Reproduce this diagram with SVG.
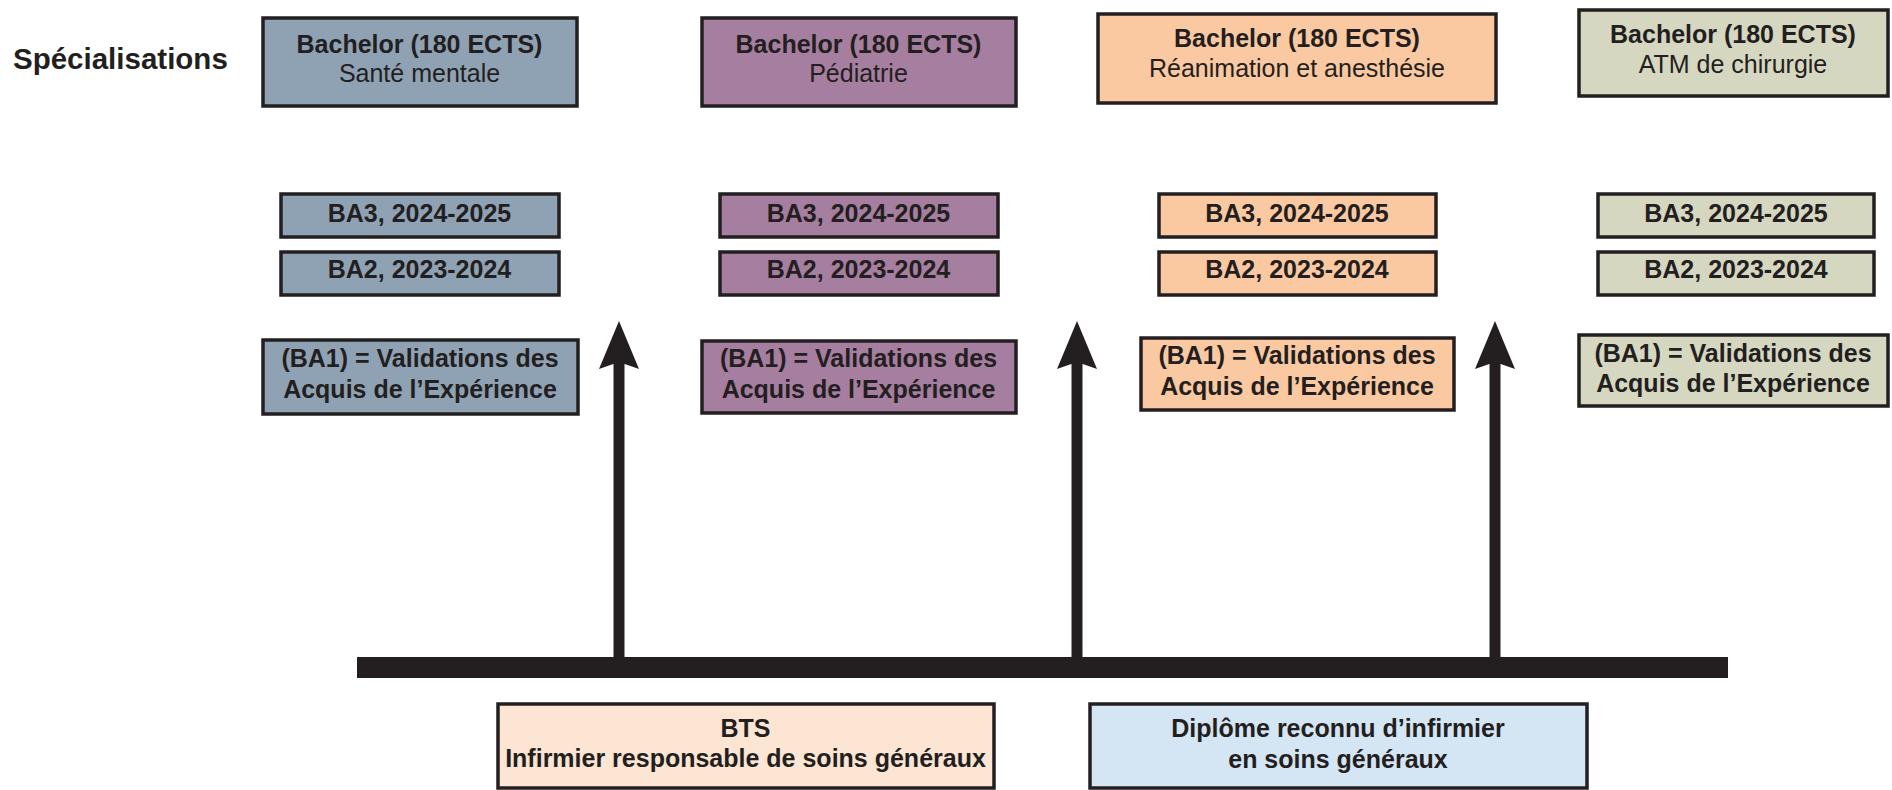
<svg xmlns="http://www.w3.org/2000/svg" width="1892" height="790" viewBox="0 0 1892 790">
<style>
  text { font-family: "Liberation Sans", Arial, sans-serif; fill: #231f20; font-size: 25px; text-anchor: middle; }
  .b { font-weight: bold; }
  .title { font-size: 29.5px; font-weight: bold; text-anchor: start; }
  rect.box { stroke: #231f20; stroke-width: 3.5; }
  .c1 { fill: #8fa2b4; }
  .c2 { fill: #a67ea0; }
  .c3 { fill: #fbc9a1; }
  .c4 { fill: #d6d7c1; }
  .bts { fill: #fce5d2; }
  .dip { fill: #d4e5f4; }
  .shaft { stroke: #231f20; stroke-width: 11; fill: none; }
</style>
<defs>
  <marker id="head" markerUnits="userSpaceOnUse" viewBox="-10 -21 50 42" markerWidth="50" markerHeight="42" refX="0" refY="0" orient="auto">
    <path d="M39,0 L-9,-20 L-2,0 L-9,20 Z" fill="#231f20"/>
  </marker>
</defs>
<rect width="1892" height="790" fill="#ffffff"/>

<text id="label-specialisations" class="title" x="13" y="69">Spécialisations</text>

<g id="connectors">
  <rect x="357" y="657" width="1371" height="21" fill="#231f20"/>
  <line class="shaft" x1="619" y1="657" x2="619" y2="360" marker-end="url(#head)"/>
  <line class="shaft" x1="1077" y1="657" x2="1077" y2="360" marker-end="url(#head)"/>
  <line class="shaft" x1="1495" y1="657" x2="1495" y2="360" marker-end="url(#head)"/>
</g>

<!-- Column 1 -->
<g id="bachelor-sante-mentale">
  <rect class="box c1" x="263" y="18" width="314" height="88"/>
  <text class="b" x="419.5" y="53">Bachelor (180 ECTS)</text>
  <text x="419.5" y="82">Santé mentale</text>
</g>
<g id="ba3-sante-mentale">
  <rect class="box c1" x="281" y="194" width="278" height="43"/>
  <text class="b" x="419.5" y="222">BA3, 2024-2025</text>
</g>
<g id="ba2-sante-mentale">
  <rect class="box c1" x="281" y="252" width="278" height="43"/>
  <text class="b" x="419.5" y="278">BA2, 2023-2024</text>
</g>
<g id="ba1-sante-mentale">
  <rect class="box c1" x="263" y="340" width="315" height="74"/>
  <text class="b" x="420" y="367">(BA1) = Validations des</text>
  <text class="b" x="420" y="398">Acquis de l’Expérience</text>
</g>

<!-- Column 2 -->
<g id="bachelor-pediatrie">
  <rect class="box c2" x="702" y="18" width="314" height="88"/>
  <text class="b" x="858.5" y="53">Bachelor (180 ECTS)</text>
  <text x="858.5" y="82">Pédiatrie</text>
</g>
<g id="ba3-pediatrie">
  <rect class="box c2" x="720" y="194" width="278" height="43"/>
  <text class="b" x="858.5" y="222">BA3, 2024-2025</text>
</g>
<g id="ba2-pediatrie">
  <rect class="box c2" x="720" y="252" width="278" height="43"/>
  <text class="b" x="858.5" y="278">BA2, 2023-2024</text>
</g>
<g id="ba1-pediatrie">
  <rect class="box c2" x="702" y="341" width="314" height="72"/>
  <text class="b" x="858.5" y="367">(BA1) = Validations des</text>
  <text class="b" x="858.5" y="398">Acquis de l’Expérience</text>
</g>

<!-- Column 3 -->
<g id="bachelor-reanimation">
  <rect class="box c3" x="1098" y="14" width="398" height="89"/>
  <text class="b" x="1297" y="47">Bachelor (180 ECTS)</text>
  <text x="1297" y="77">Réanimation et anesthésie</text>
</g>
<g id="ba3-reanimation">
  <rect class="box c3" x="1159" y="194" width="277" height="43"/>
  <text class="b" x="1297" y="222">BA3, 2024-2025</text>
</g>
<g id="ba2-reanimation">
  <rect class="box c3" x="1159" y="252" width="277" height="43"/>
  <text class="b" x="1297" y="278">BA2, 2023-2024</text>
</g>
<g id="ba1-reanimation">
  <rect class="box c3" x="1141" y="338" width="313" height="72"/>
  <text class="b" x="1297" y="364">(BA1) = Validations des</text>
  <text class="b" x="1297" y="395">Acquis de l’Expérience</text>
</g>

<!-- Column 4 -->
<g id="bachelor-atm-chirurgie">
  <rect class="box c4" x="1579" y="10" width="309" height="86"/>
  <text class="b" x="1733" y="43">Bachelor (180 ECTS)</text>
  <text x="1733" y="73">ATM de chirurgie</text>
</g>
<g id="ba3-atm-chirurgie">
  <rect class="box c4" x="1598" y="194" width="276" height="43"/>
  <text class="b" x="1736" y="222">BA3, 2024-2025</text>
</g>
<g id="ba2-atm-chirurgie">
  <rect class="box c4" x="1598" y="252" width="276" height="43"/>
  <text class="b" x="1736" y="278">BA2, 2023-2024</text>
</g>
<g id="ba1-atm-chirurgie">
  <rect class="box c4" x="1579" y="335" width="309" height="71"/>
  <text class="b" x="1733" y="362">(BA1) = Validations des</text>
  <text class="b" x="1733" y="392">Acquis de l’Expérience</text>
</g>

<!-- Bottom -->
<g id="bts">
  <rect class="box bts" x="498" y="704" width="496" height="84"/>
  <text class="b" x="745.5" y="737">BTS</text>
  <text class="b" x="745.5" y="767">Infirmier responsable de soins généraux</text>
</g>
<g id="diplome">
  <rect class="box dip" x="1090" y="704" width="497" height="84"/>
  <text class="b" x="1338" y="737">Diplôme reconnu d’infirmier</text>
  <text class="b" x="1338" y="768">en soins généraux</text>
</g>
</svg>
